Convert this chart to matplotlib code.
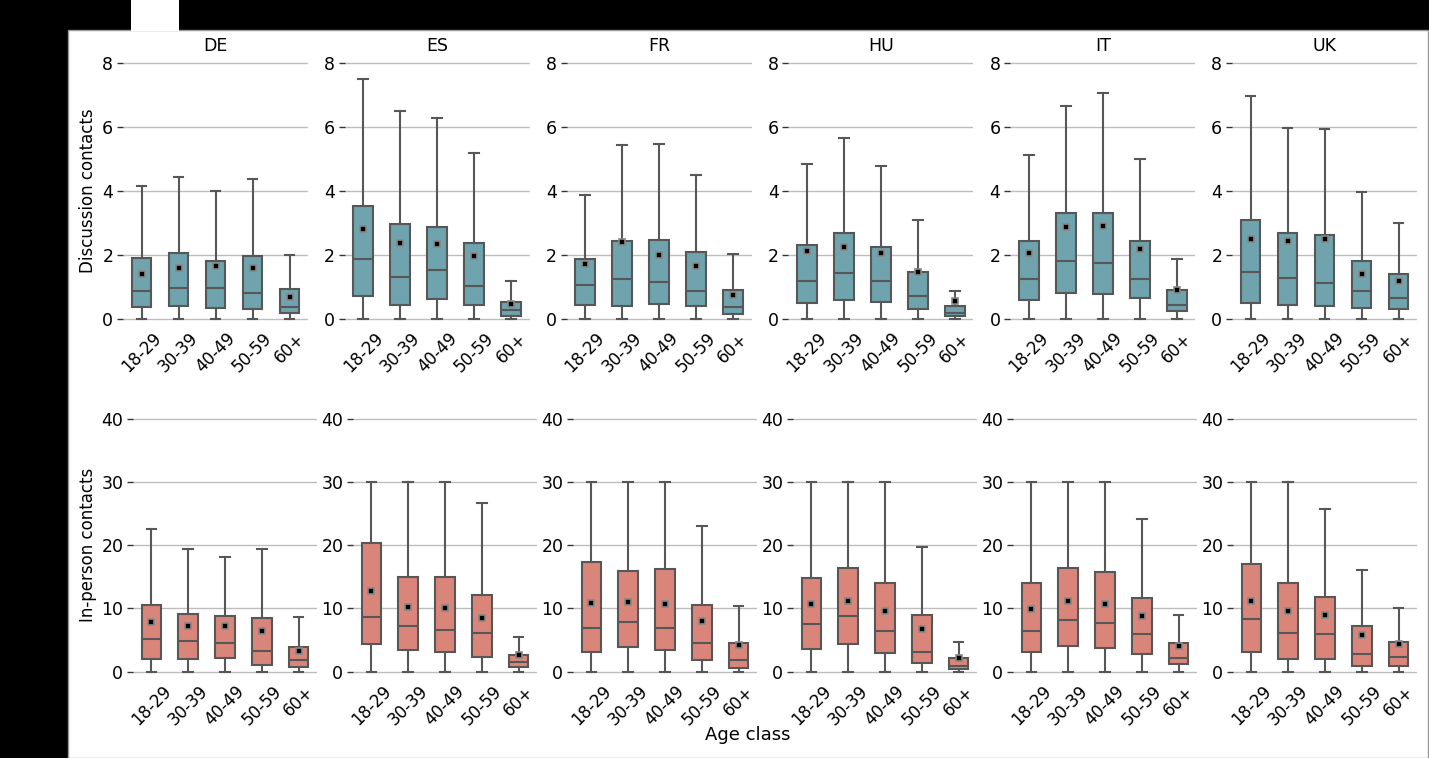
import matplotlib
matplotlib.use("Agg")
import matplotlib.pyplot as plt
from matplotlib.patches import Rectangle

countries = ["DE", "ES", "FR", "HU", "IT", "UK"]
age_classes = ["18-29", "30-39", "40-49", "50-59", "60+"]

# discussion contacts (one list per country, one value per age class)
disc_q1 = [[0.37, 0.42, 0.35, 0.30, 0.18],
           [0.72, 0.44, 0.64, 0.44, 0.09],
           [0.45, 0.40, 0.47, 0.41, 0.16],
           [0.51, 0.60, 0.54, 0.30, 0.08],
           [0.60, 0.80, 0.77, 0.67, 0.24],
           [0.50, 0.43, 0.42, 0.33, 0.31]]
disc_med = [[0.88, 0.98, 0.97, 0.82, 0.38],
            [1.86, 1.32, 1.52, 1.02, 0.27],
            [1.07, 1.24, 1.15, 0.87, 0.36],
            [1.19, 1.43, 1.20, 0.73, 0.19],
            [1.26, 1.82, 1.76, 1.26, 0.45],
            [1.46, 1.27, 1.14, 0.87, 0.67]]
disc_q3 = [[1.90, 2.05, 1.82, 1.96, 0.94],
           [3.54, 2.98, 2.88, 2.37, 0.53],
           [1.86, 2.45, 2.48, 2.10, 0.92],
           [2.31, 2.70, 2.25, 1.47, 0.41],
           [2.43, 3.32, 3.32, 2.43, 0.91],
           [3.09, 2.68, 2.63, 1.82, 1.42]]
disc_whishi = [[4.15, 4.45, 4.00, 4.38, 2.00],
               [7.50, 6.50, 6.27, 5.18, 1.19],
               [3.87, 5.43, 5.47, 4.51, 2.03],
               [4.85, 5.65, 4.78, 3.10, 0.87],
               [5.13, 6.66, 7.05, 5.00, 1.86],
               [6.96, 5.97, 5.95, 3.97, 2.99]]
disc_mean = [[1.42, 1.58, 1.65, 1.60, 0.70],
             [2.80, 2.36, 2.34, 1.96, 0.48],
             [1.71, 2.40, 2.00, 1.65, 0.74],
             [2.13, 2.25, 2.07, 1.47, 0.57],
             [2.07, 2.86, 2.92, 2.20, 0.90],
             [2.49, 2.45, 2.49, 1.41, 1.20]]

# in-person contacts
inp_q1 = [[2.06, 1.95, 2.20, 1.10, 0.68],
          [4.38, 3.43, 3.17, 2.32, 0.74],
          [3.17, 3.86, 3.43, 1.90, 0.53],
          [3.65, 4.38, 2.96, 1.43, 0.42],
          [3.17, 4.07, 3.80, 2.85, 1.22],
          [3.11, 2.06, 2.06, 0.95, 0.95]]
inp_med = [[5.16, 4.90, 4.53, 3.32, 1.90],
           [8.70, 7.24, 6.66, 6.18, 1.48],
           [6.92, 7.93, 6.92, 4.55, 1.85],
           [7.50, 8.77, 6.50, 3.12, 0.95],
           [6.50, 8.14, 7.71, 5.97, 2.17],
           [8.33, 6.17, 5.90, 2.80, 2.27]]
inp_q3 = [[10.50, 9.17, 8.85, 8.54, 3.95],
          [20.40, 14.95, 14.95, 12.10, 2.70],
          [17.38, 15.90, 16.27, 10.57, 4.50],
          [14.85, 16.43, 14.00, 8.98, 2.17],
          [13.95, 16.43, 15.69, 11.68, 4.50],
          [17.07, 13.97, 11.86, 7.17, 4.74]]
inp_whishi = [[22.6, 19.45, 18.13, 19.34, 8.6],
              [30.0, 30.0, 30.0, 26.6, 5.5],
              [30.0, 30.0, 30.0, 22.98, 10.35],
              [30.0, 30.0, 30.0, 19.76, 4.75],
              [30.0, 30.0, 30.0, 24.1, 9.03],
              [30.0, 30.0, 25.77, 16.07, 10.07]]
inp_mean = [[7.80, 7.22, 7.27, 6.38, 3.32],
            [12.73, 10.25, 10.09, 8.50, 2.59],
            [10.88, 11.04, 10.67, 8.03, 4.23],
            [10.67, 11.15, 9.56, 6.76, 2.11],
            [9.88, 11.25, 10.72, 8.87, 4.01],
            [11.22, 9.59, 8.90, 5.80, 4.32]]

W, H = 1429, 758
fig = plt.figure(figsize=(W / 100, H / 100), dpi=100, facecolor="black")

# white background area like the reference
fig.patches.append(Rectangle((68 / W, 0), 1 - 68 / W - 1 / W, (H - 30) / H, transform=fig.transFigure,
                             facecolor="white", edgecolor="#999999", linewidth=1, zorder=-10))
fig.patches.append(Rectangle((131 / W, (H - 31) / H), 48 / W, 31 / H, transform=fig.transFigure,
                             facecolor="white", edgecolor="none", zorder=-9))

edge = "#575757"
rows = [
    dict(q1=disc_q1, med=disc_med, q3=disc_q3, hi=disc_whishi, mean=disc_mean,
         color="#6fa3ad", ylim=(-0.2, 8.2), ticks=[0, 2, 4, 6, 8],
         top=56.6, bottom=325.4, left=123, pitch=221.8, width=185),
    dict(q1=inp_q1, med=inp_med, q3=inp_q3, hi=inp_whishi, mean=inp_mean,
         color="#d9857a", ylim=(-1, 41), ticks=[0, 10, 20, 30, 40],
         top=412.3, bottom=678.0, left=133, pitch=220, width=184),
]

for r, row in enumerate(rows):
    for c, country in enumerate(countries):
        x0 = row["left"] + c * row["pitch"]
        ax = fig.add_axes([x0 / W, 1 - row["bottom"] / H, row["width"] / W, (row["bottom"] - row["top"]) / H])
        ax.set_facecolor("none")
        stats = []
        for i, age in enumerate(age_classes):
            stats.append(dict(label=age, whislo=0.0, q1=row["q1"][c][i], med=row["med"][c][i],
                              q3=row["q3"][c][i], whishi=row["hi"][c][i], mean=row["mean"][c][i]))
        ax.bxp(stats, positions=range(len(age_classes)), widths=0.53, capwidths=0.26,
               patch_artist=True, showmeans=True, showfliers=False,
               boxprops=dict(facecolor=row["color"], edgecolor=edge, linewidth=1.5),
               medianprops=dict(color=edge, linewidth=1.5),
               whiskerprops=dict(color=edge, linewidth=1.5),
               capprops=dict(color=edge, linewidth=1.5),
               meanprops=dict(marker="s", markerfacecolor="black", markeredgecolor="#888888",
                              markersize=4.5, markeredgewidth=1.2))
        ax.set_xlim(-0.5, 4.5)
        ax.set_ylim(*row["ylim"])
        ax.set_yticks(row["ticks"])
        ax.set_xticks(range(len(age_classes)))
        ax.set_xticklabels(age_classes, rotation=45, ha="center", fontsize=12)
        ax.tick_params(axis="x", length=0, pad=3)
        ax.tick_params(axis="y", length=4, width=1, color="#333333", labelsize=12.5, pad=3)
        ax.yaxis.grid(True, color="#bdbdbd", linewidth=1)
        ax.set_axisbelow(True)
        for s in ax.spines.values():
            s.set_visible(False)
        if r == 0:
            ax.set_title(country, fontsize=12.5, pad=4)

fig.text(88 / W, 1 - 191 / H, "Discussion contacts", rotation=90, ha="center", va="center", fontsize=12)
fig.text(88 / W, 1 - 545 / H, "In-person contacts", rotation=90, ha="center", va="center", fontsize=12)
fig.text(748 / W, 1 - 735 / H, "Age class", ha="center", va="center", fontsize=13)

fig.savefig("out.png", dpi=100, facecolor=fig.get_facecolor())
